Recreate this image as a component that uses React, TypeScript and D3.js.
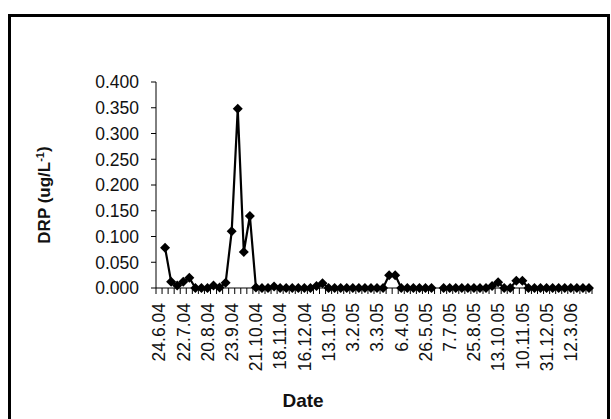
import React from "react";
import * as d3 from "d3";

// category labels shown on the axis (every 4th sampling date)
const dateLabels = [
  "24.6.04", "22.7.04", "20.8.04", "23.9.04", "21.10.04", "18.11.04",
  "16.12.04", "13.1.05", "3.2.05", "3.3.05", "6.4.05", "26.5.05",
  "7.7.05", "25.8.05", "13.10.05", "10.11.05", "31.12.05", "12.3.06",
];
const labelEvery = 4;

// DRP readings per sampling (null = no reading)
const drpValues: (number | null)[] = [
  null, 0.078, 0.012, 0.005, 0.012, 0.020, 0, 0, 0, 0.005,
  0.001, 0.010, 0.110, 0.348, 0.070, 0.140, 0.001, 0, 0, 0.003,
  0, 0, 0, 0, 0, 0, 0.004, 0.009, 0, 0,
  0, 0, 0, 0, 0, 0, 0, 0, 0.025, 0.025,
  0, 0, 0, 0, 0, 0, null, 0, 0, 0,
  0, 0, 0, 0, 0, 0.004, 0.011, 0, 0, 0.014,
  0.014, 0, 0, 0, 0, 0, 0, 0, 0, 0,
  0, 0,
];

const yTicks = [0, 0.05, 0.1, 0.15, 0.2, 0.25, 0.3, 0.35, 0.4];

const FONT = "'Liberation Sans', Arial, sans-serif";

export default function App() {
  const W = 611;
  const H = 419;
  const left = 156, right = 592, top = 82, bottom = 288;

  const n = drpValues.length;
  const x = d3.scaleLinear().domain([-0.5, n - 0.5]).range([left, right]);
  const y = d3.scaleLinear().domain([0, 0.4]).range([bottom, top]);

  const line = d3
    .line<number | null>()
    .defined((d) => d != null)
    .x((_, i) => x(i))
    .y((d) => y(d as number));

  const diamond = "M0,-5L5,0L0,5L-5,0Z";

  return (
    <svg
      width={W}
      height={H}
      style={{ position: "absolute", left: 0, top: 0, background: "#fff" }}
      fontFamily={FONT}
    >
      <rect x={9.5} y={15.5} width={599} height={420} fill="#fff" stroke="#000" strokeWidth={3} />

      {/* y axis */}
      <line x1={left} x2={left} y1={top} y2={bottom} stroke="#000" strokeWidth={1} />
      {yTicks.map((t) => (
        <g key={t}>
          <line x1={left - 5} x2={left} y1={y(t)} y2={y(t)} stroke="#000" />
          <text x={139} y={y(t)} dy="0.36em" textAnchor="end" fontSize={17.5} fill="#111">
            {d3.format(".3f")(t)}
          </text>
        </g>
      ))}

      {/* x axis */}
      <line x1={left} x2={right} y1={bottom} y2={bottom} stroke="#000" strokeWidth={1} />
      {d3.range(n + 1).map((j) => (
        <line key={j} x1={x(j - 0.5)} x2={x(j - 0.5)} y1={bottom} y2={bottom + 6} stroke="#000" />
      ))}
      {dateLabels.map((lab, j) => {
        const cx = x(j * labelEvery);
        return (
          <text
            key={lab}
            transform={`translate(${cx},303) rotate(-90)`}
            dy="0.36em"
            textAnchor="end"
            fontSize={17.5}
            fill="#111"
          >
            {lab}
          </text>
        );
      })}

      {/* series */}
      <path d={line(drpValues) ?? ""} fill="none" stroke="#000" strokeWidth={2.2} />
      {drpValues.map((v, i) =>
        v == null ? null : (
          <path key={i} d={diamond} transform={`translate(${x(i)},${y(v)})`} fill="#000" />
        )
      )}

      {/* titles */}
      <text
        transform="translate(44,195) rotate(-90)"
        dy="0.36em"
        textAnchor="middle"
        fontSize={17}
        fontWeight="bold"
        fill="#111"
      >
        DRP (ug/L
        <tspan fontSize={11} dy="-0.6em">-1</tspan>
        <tspan dy="0.35em">)</tspan>
      </text>
      <text x={303} y={400} dy="0.36em" textAnchor="middle" fontSize={19} fontWeight="bold" fill="#111">
        Date
      </text>
    </svg>
  );
}
